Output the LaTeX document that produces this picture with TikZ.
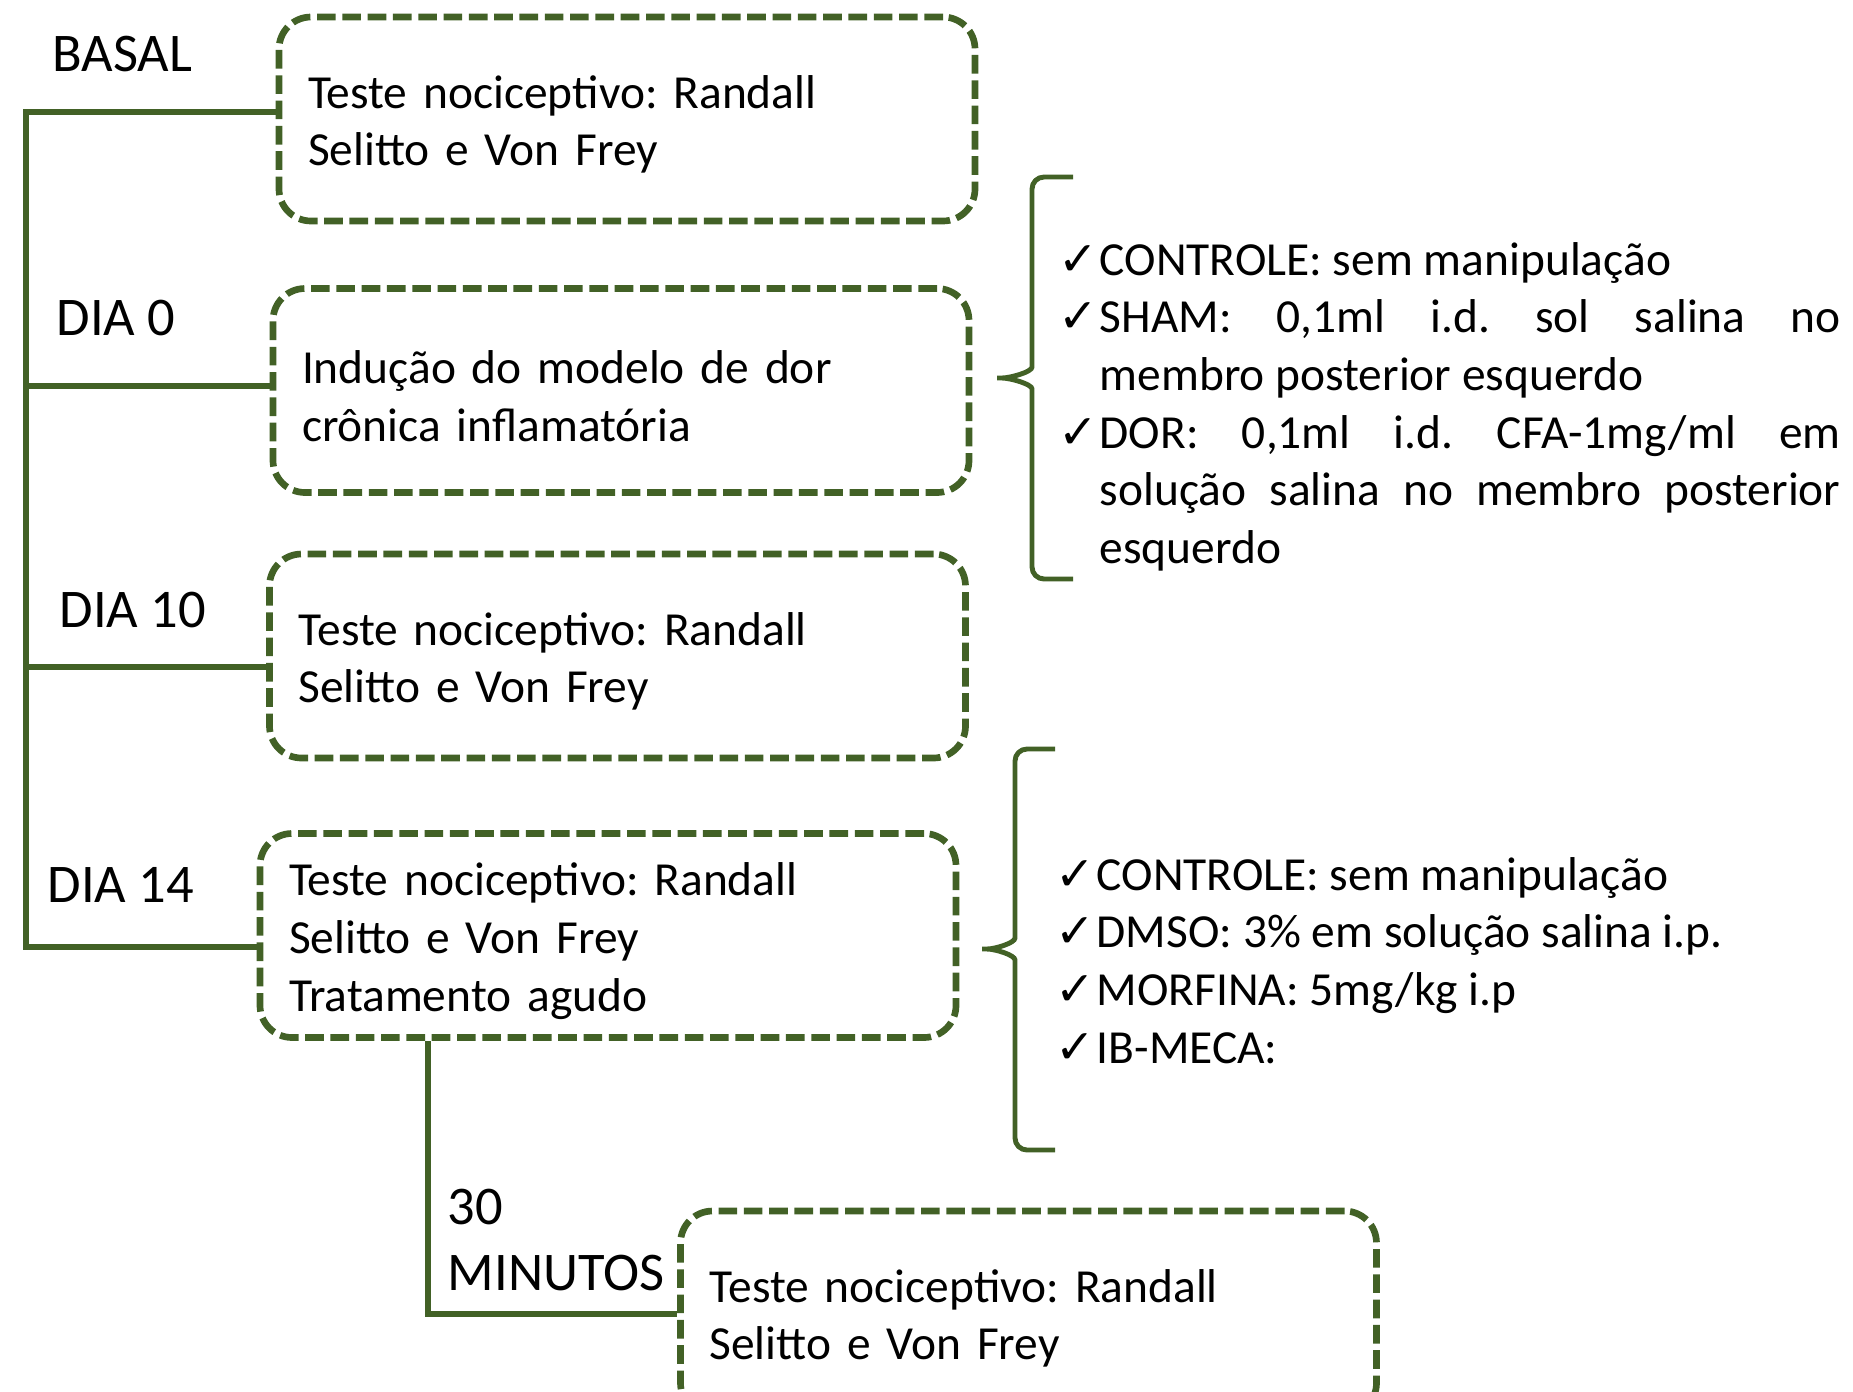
\documentclass[tikz,border=0pt]{standalone}
\usepackage{fontspec}
\setmainfont{Carlito}
\newfontfamily\symfont{DejaVu Sans}
\usepackage{tikz}
\usetikzlibrary{positioning, calc}
\definecolor{mygreen}{RGB}{66,97,38}
\frenchspacing
\newcommand{\boxfont}{\fontsize{13.5pt}{16.4pt}\selectfont}
\newcommand{\labelfont}{\fontsize{15.5pt}{18.8pt}\selectfont}
\newcommand{\listfont}{\boxfont\tolerance=10000\hyphenpenalty=10000\exhyphenpenalty=10000}
\newcommand{\chkitem}{\par\hangindent=0.41cm\hangafter=1\noindent\makebox[0.41cm][l]{\symfont\fontsize{13.5pt}{16.4pt}\selectfont ✓}}
\tikzset{
  stepbox/.style={rectangle, draw=mygreen, line width=1.9pt,
    dash pattern=on 5.3pt off 1.9pt, rounded corners=0.32cm,
    text width=6.38cm, inner xsep=0.29cm, minimum height=2.04cm,
    align=left, font=\boxfont, execute at begin node={\rule{0pt}{12.5pt}}},
  daylabel/.style={inner sep=0pt, anchor=west, font=\labelfont},
  checklist/.style={anchor=north west, inner sep=0pt, text width=7.82cm,
    align=justify, font=\listfont},
  trunk/.style={draw=mygreen, line width=1.8pt},
  bracket/.style={draw=mygreen, line width=1.4pt}
}

\begin{document}
\begin{tikzpicture}
  \useasboundingbox (0,0) rectangle (18.53,-13.91);

  % --- etapas ---
  \node[stepbox] (basalbox) at (6.27,-1.19) {Teste nociceptivo: Randall\\Selitto e Von Frey};
  \node[stepbox] (dia0box) at (6.21,-3.905) {Indução do modelo de dor\\crônica inflamatória};
  \node[stepbox] (dia10box) at (6.175,-6.56) {Teste nociceptivo: Randall\\Selitto e Von Frey};
  \node[stepbox] (dia14box) at (6.08,-9.355) {Teste nociceptivo: Randall\\Selitto e Von Frey\\Tratamento agudo};
  \node[stepbox] (minbox) at (10.285,-13.13) {Teste nociceptivo: Randall\\Selitto e Von Frey};

  \node[daylabel] (basal) at (0.52,-0.54) {BASAL};
  \node[daylabel] (dia0) at (0.56,-3.18) {DIA 0};
  \node[daylabel] (dia10) at (0.59,-6.10) {DIA 10};
  \node[daylabel] (dia14) at (0.47,-8.85) {DIA 14};
  \node[daylabel, align=left] (mins) at (4.47,-12.40) {30\\MINUTOS};

  % --- linha do tempo ---
  \coordinate (t0) at (0.26,-1.12);
  \coordinate (t1) at (0.26,-3.86);
  \coordinate (t2) at (0.26,-6.67);
  \coordinate (t3) at (0.26,-9.47);
  \draw[trunk] (t0 -| basalbox.west) -- (t0) -- (t3) -- (t3 -| dia14box.west);
  \draw[trunk] (t1) -- (t1 -| dia0box.west);
  \draw[trunk] (t2) -- (t2 -| dia10box.west);
  \coordinate (m30) at (4.28,-13.14);
  \draw[trunk] (m30 |- dia14box.south) -- (m30) -- (m30 -| minbox.west);

  % --- grupos ---
  \draw[bracket, rounded corners=0.12cm] (10.73,-1.77) -- (10.32,-1.77) -- (10.32,-3.55)
    .. controls (10.32,-3.72) and (10.10,-3.78) .. (9.90,-3.78)
    .. controls (10.10,-3.78) and (10.32,-3.84) .. (10.32,-4.01) -- (10.32,-5.79) -- (10.73,-5.79);
  \node[checklist] (grupos0) at (10.58,-2.17) {%
    \chkitem CONTROLE: sem manipulação
    \chkitem SHAM: 0,1ml i.d. sol salina no\linebreak membro posterior esquerdo
    \chkitem DOR: 0,1ml i.d. CFA-1mg/ml em\linebreak solução salina no membro posterior\linebreak esquerdo\par};

  \draw[bracket, rounded corners=0.12cm] (10.55,-7.49) -- (10.15,-7.49) -- (10.15,-9.26)
    .. controls (10.15,-9.43) and (9.95,-9.49) .. (9.75,-9.49)
    .. controls (9.95,-9.49) and (10.15,-9.55) .. (10.15,-9.72) -- (10.15,-11.50) -- (10.55,-11.50);
  \node[checklist] (grupos14) at (10.55,-8.32) {%
    \chkitem CONTROLE: sem manipulação
    \chkitem DMSO: 3\% em solução salina i.p.
    \chkitem MORFINA: 5mg/kg i.p
    \chkitem IB-MECA:\par};
\end{tikzpicture}
\end{document}
